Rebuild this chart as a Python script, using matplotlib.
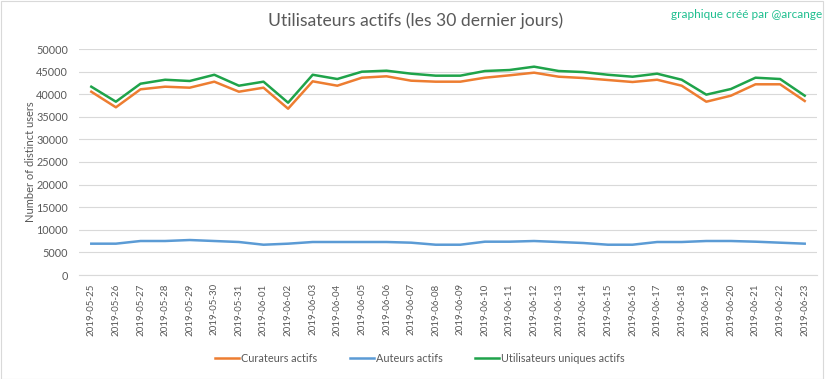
"""Utilisateurs actifs sur 30 jours : curateurs, auteurs et utilisateurs uniques."""

import matplotlib

matplotlib.use("Agg")
import matplotlib.pyplot as plt  # noqa: E402
from matplotlib.patches import Rectangle  # noqa: E402

plt.rcParams["font.family"] = ["Lato", "DejaVu Sans"]

dates = [
    "2019-05-25", "2019-05-26", "2019-05-27", "2019-05-28", "2019-05-29",
    "2019-05-30", "2019-05-31", "2019-06-01", "2019-06-02", "2019-06-03",
    "2019-06-04", "2019-06-05", "2019-06-06", "2019-06-07", "2019-06-08",
    "2019-06-09", "2019-06-10", "2019-06-11", "2019-06-12", "2019-06-13",
    "2019-06-14", "2019-06-15", "2019-06-16", "2019-06-17", "2019-06-18",
    "2019-06-19", "2019-06-20", "2019-06-21", "2019-06-22", "2019-06-23",
]
curateurs = [
    40550, 37100, 41080, 41660, 41440, 42770, 40550, 41440, 36790, 42850,
    41880, 43650, 43960, 42990, 42770, 42770, 43650, 44180, 44760, 43870,
    43580, 43140, 42700, 43200, 41880, 38340, 39670, 42190, 42190, 38500,
]
auteurs = [
    6930, 6930, 7520, 7520, 7740, 7520, 7300, 6700, 6930, 7300,
    7300, 7300, 7300, 7150, 6700, 6700, 7370, 7370, 7520, 7300,
    7080, 6700, 6700, 7300, 7300, 7520, 7520, 7370, 7150, 6930,
]
uniques = [
    41660, 38340, 42320, 43200, 42920, 44300, 41880, 42770, 38120, 44300,
    43360, 44980, 45200, 44540, 44100, 44100, 45130, 45350, 46090, 45130,
    44900, 44300, 43870, 44540, 43200, 39900, 41150, 43650, 43360, 39670,
]
y_ticks = list(range(0, 50001, 5000))

W, H = 833, 379
fig = plt.figure(figsize=(W / 100, H / 100), dpi=100)
fig.patches.append(Rectangle((0.001, 0.001), 822 / W, 0.996, transform=fig.transFigure,
                             fill=False, edgecolor="#D9D9D9", linewidth=0.8))

ax = fig.add_axes([79 / W, 1 - 275 / H, (817 - 79) / W, (275 - 49) / H])
x = list(range(len(dates)))
ax.plot(x, curateurs, color="#ED7D31", lw=1.8, label="Curateurs actifs")
ax.plot(x, auteurs, color="#5B9BD5", lw=1.8, label="Auteurs actifs")
ax.plot(x, uniques, color="#1FA34A", lw=1.8, label="Utilisateurs uniques actifs")

ax.set_xlim(-0.5, len(dates) - 0.5)
ax.set_ylim(0, 50000)
ax.set_yticks(y_ticks)
ax.set_yticklabels([str(v) for v in y_ticks], fontsize=7.8, color="#595959")
ax.set_xticks(x)
ax.set_xticklabels(dates, rotation=90, fontsize=7, color="#595959")
ax.tick_params(axis="y", length=0, pad=8)
ax.tick_params(axis="x", length=0, pad=6)
ax.grid(axis="y", color="#D9D9D9", lw=0.8)
ax.set_axisbelow(True)
for s in ("top", "right", "left"):
    ax.spines[s].set_visible(False)
ax.spines["bottom"].set_color("#D9D9D9")
ax.set_ylabel("Number of distinct users", fontsize=8, color="#595959", labelpad=0)

fig.text(416 / W, 1 - 21 / H, "Utilisateurs actifs (les 30 dernier jours)",
         ha="center", va="center", fontsize=12.6, color="#595959")
fig.text(822 / W, 1 - 14 / H, "graphique créé par @arcange",
         ha="right", va="center", fontsize=8.5, color="#1DBE8E")

fig.legend(loc="center", bbox_to_anchor=(420 / W, 1 - 358 / H), ncol=3,
           frameon=False, fontsize=7.8, labelcolor="#595959",
           handlelength=2.2, handletextpad=0.2, columnspacing=3)

fig.savefig("out.png", dpi=100)
